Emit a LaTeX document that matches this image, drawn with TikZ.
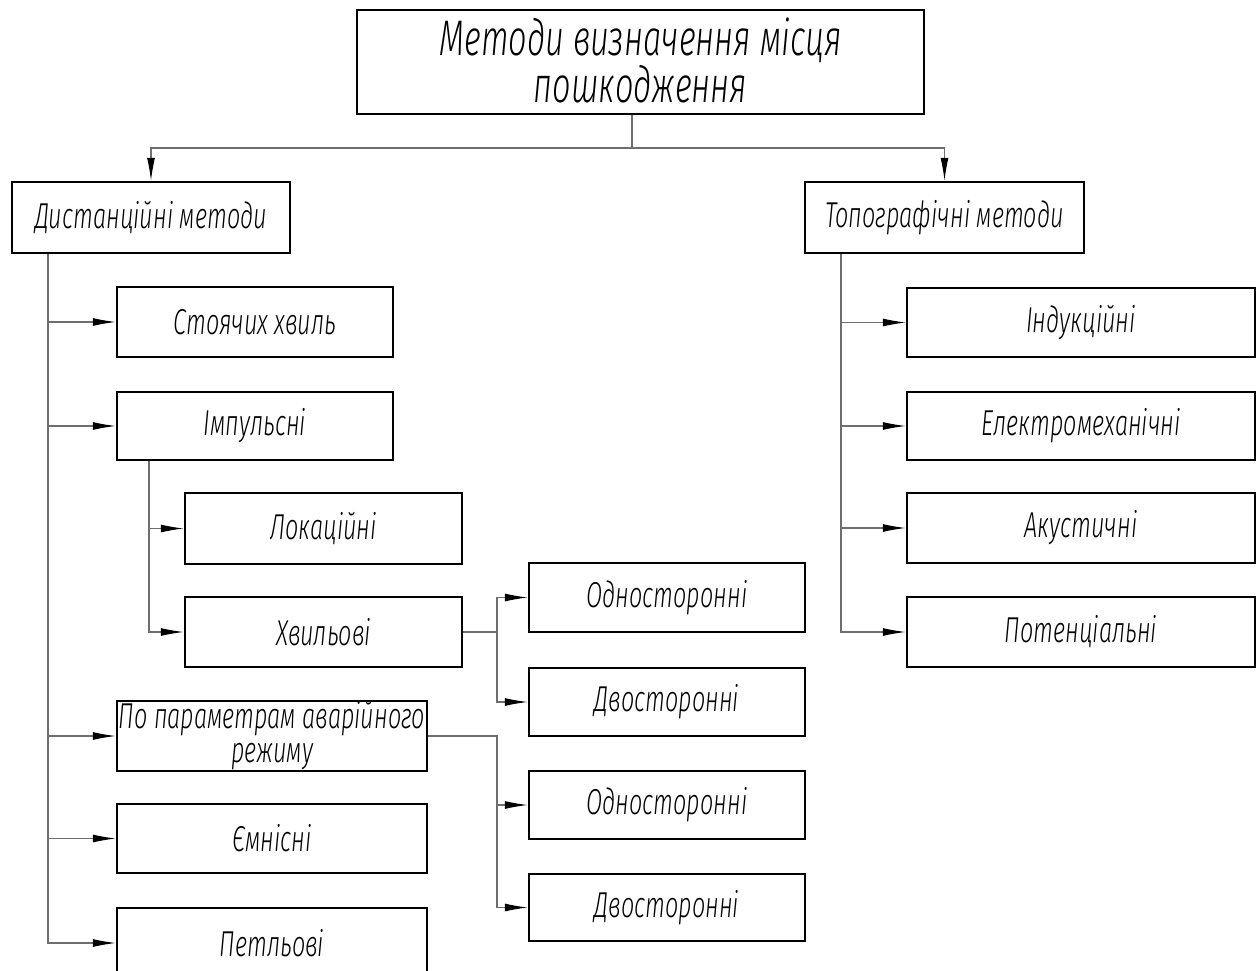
\documentclass[tikz,border=0pt]{standalone}
\usepackage{fontspec}
\newfontfamily\gost{Fira Sans Light Italic}[FakeStretch=0.65]
\usetikzlibrary{arrows.meta}
\definecolor{conngray}{RGB}{110,110,110}
\tikzset{
  box/.style={draw=black, line width=2.5pt, inner sep=0pt, align=center,
    font=\gost\fontsize{36}{34}\selectfont},
  conn/.style={draw=conngray, line width=1.1pt},
  arr/.style={-{Latex[length=23pt,width=8pt,black]}}
}
\begin{document}
\begin{tikzpicture}[x=1pt,y=-1pt]
\useasboundingbox (0,0) rectangle (1258,971);
% nodes
\node[box, minimum width=567pt, minimum height=104pt,
  label={[name=toptext, yshift=2pt, align=center, inner sep=0pt, font=\gost\fontsize{50}{47}\selectfont]center:{Методи визначення місця\\пошкодження}}] (top) at (640.5,62) {};
\node[box, minimum width=278pt, minimum height=71pt] (dist) at (151,217.5) {Дистанційні методи};
\node[box, minimum width=279pt, minimum height=71pt] (topo) at (944.5,217.5) {Топографічні методи};
\node[box, minimum width=276pt, minimum height=70pt] (stoy) at (255,322) {Стоячих хвиль};
\node[box, minimum width=276pt, minimum height=68pt] (imp) at (255,426) {Імпульсні};
\node[box, minimum width=277pt, minimum height=71pt] (lok) at (323.5,528.5) {Локаційні};
\node[box, minimum width=277pt, minimum height=70pt] (khv) at (323.5,632) {Хвильові};
\node[box, minimum width=276pt, minimum height=69pt] (odn1) at (667,597.5) {Односторонні};
\node[box, minimum width=276pt, minimum height=68pt] (dvo1) at (667,702) {Двосторонні};
\node[box, minimum width=310pt, minimum height=70pt] (po) at (272,736) {По параметрам аварійного\\режиму};
\node[box, minimum width=276pt, minimum height=68pt] (odn2) at (667,805) {Односторонні};
\node[box, minimum width=276pt, minimum height=67pt] (dvo2) at (667,907.5) {Двосторонні};
\node[box, minimum width=310pt, minimum height=69pt] (emn) at (272,838.5) {Ємнісні};
\node[box, minimum width=310pt, minimum height=70pt] (pet) at (272,943) {Петльові};
\node[box, minimum width=348pt, minimum height=69pt] (ind) at (1081,322.5) {Індукційні};
\node[box, minimum width=348pt, minimum height=68pt] (elek) at (1081,426) {Електромеханічні};
\node[box, minimum width=348pt, minimum height=70pt] (aku) at (1081,528) {Акустичні};
\node[box, minimum width=348pt, minimum height=70pt] (pot) at (1081,632) {Потенціальні};
% junction coordinates
\coordinate (j0) at (632,148);
\coordinate (lt) at (48,0);
\coordinate (st) at (149,0);
\coordinate (sp) at (497,0);
\coordinate (rt) at (841,0);
% top
\draw[conn] (top.south -| j0) -- (j0);
\draw[conn,arr] (j0) -| (dist.north);
\draw[conn,arr] (j0) -| (topo.north);
% left trunk
\draw[conn,arr] (dist.south -| lt) |- (pet.west);
\draw[conn,arr] (lt |- stoy.west) -- (stoy.west);
\draw[conn,arr] (lt |- imp.west) -- (imp.west);
\draw[conn,arr] (lt |- po.west) -- (po.west);
\draw[conn,arr] (lt |- emn.west) -- (emn.west);
% impulse sub-trunk
\draw[conn,arr] (imp.south -| st) |- (khv.west);
\draw[conn,arr] (st |- lok.west) -- (lok.west);
% wave split
\draw[conn,arr] (khv.east) -| (sp |- odn1.west) -- (odn1.west);
\draw[conn,arr] (sp |- khv.east) |- (dvo1.west);
% emergency-mode split
\draw[conn,arr] (po.east) -| (sp |- dvo2.west) -- (dvo2.west);
\draw[conn,arr] (sp |- odn2.west) -- (odn2.west);
% right trunk
\draw[conn,arr] (topo.south -| rt) |- (pot.west);
\draw[conn,arr] (rt |- ind.west) -- (ind.west);
\draw[conn,arr] (rt |- elek.west) -- (elek.west);
\draw[conn,arr] (rt |- aku.west) -- (aku.west);
\end{tikzpicture}
\end{document}
